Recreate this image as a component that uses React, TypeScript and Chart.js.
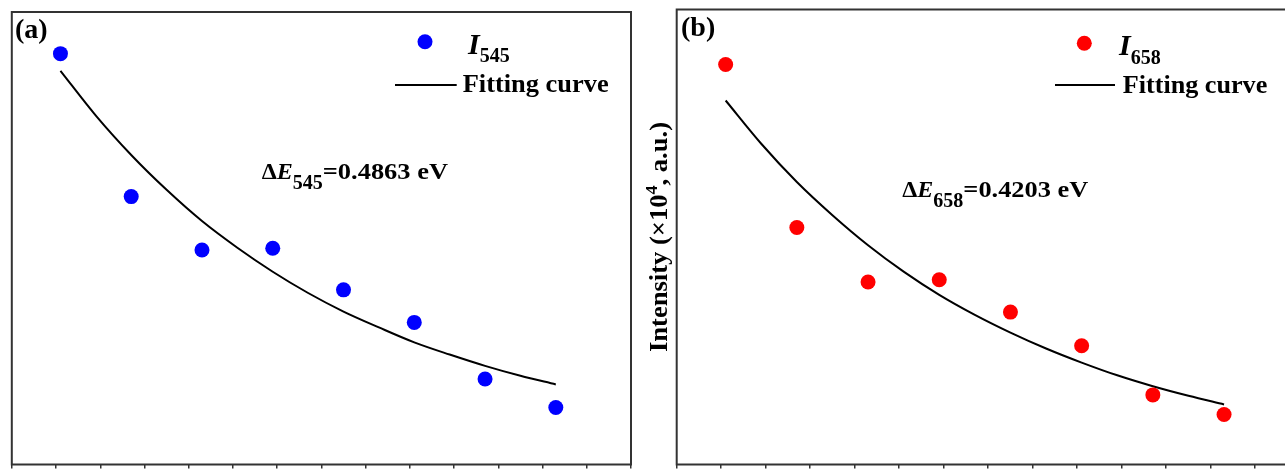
import React, { useEffect, useRef } from 'react';
import { Chart, registerables } from 'chart.js';

Chart.register(...registerables);

// ---------- data ----------
const xTicks = [0, 1, 2, 3, 4, 5, 6, 7, 8, 9, 10, 11, 12, 13, 14];
const xPoints = [1.1, 2.7, 4.3, 5.9, 7.5, 9.1, 10.7, 12.3];
const xFit = [1.1, 1.9, 2.7, 3.5, 4.3, 5.1, 5.9, 6.7, 7.5, 8.3, 9.1, 9.9, 10.7, 11.5, 12.3];

const i545 = [9.08, 5.92, 4.74, 4.78, 3.86, 3.14, 1.89, 1.26];
const fit545 = [8.70, 7.71, 6.84, 6.07, 5.38, 4.79, 4.26, 3.79, 3.38, 3.03, 2.70, 2.43, 2.18, 1.96, 1.77];

const i658 = [8.79, 5.21, 4.01, 4.06, 3.35, 2.61, 1.53, 1.10];
const fit658 = [8.00, 7.05, 6.21, 5.48, 4.82, 4.24, 3.73, 3.29, 2.90, 2.55, 2.24, 1.96, 1.72, 1.51, 1.32];

const labelA = '(a)';
const labelB = '(b)';
const seriesA = '545';
const seriesB = '658';
const energyA = '=0.4863 eV';
const energyB = '=0.4203 eV';
const fitLabel = 'Fitting curve';
const yTitleMain = 'Intensity (\u00d710';
const yTitleSup = '4';
const yTitleEnd = ', a.u.)';

// ---------- helpers ----------
type Seg = { t: string; size: number; italic?: boolean; dy?: number; sx?: number };

const FONT = '"Liberation Serif", "Times New Roman", serif';

function segFont(s: Seg) {
  return `${s.italic ? 'italic ' : ''}bold ${s.size}px ${FONT}`;
}

function richWidth(ctx: CanvasRenderingContext2D, segs: Seg[]) {
  let w = 0;
  for (const s of segs) {
    ctx.font = segFont(s);
    w += ctx.measureText(s.t).width * (s.sx ?? 1);
  }
  return w;
}

function drawRich(ctx: CanvasRenderingContext2D, x: number, y: number, segs: Seg[]) {
  let cx = x;
  for (const s of segs) {
    ctx.save();
    ctx.font = segFont(s);
    const sx = s.sx ?? 1;
    ctx.translate(cx, y + (s.dy ?? 0));
    ctx.scale(sx, 1);
    ctx.fillStyle = '#000';
    ctx.textBaseline = 'alphabetic';
    ctx.textAlign = 'left';
    ctx.fillText(s.t, 0, 0);
    cx += ctx.measureText(s.t).width * sx;
    ctx.restore();
  }
  return cx;
}

type PanelCfg = {
  canvasLeft: number;
  canvasWidth: number;
  padding: { left: number; top: number; right: number; bottom: number };
  values: number[];
  fit: number[];
  color: string;
  label: string;
  labelPos: [number, number];
  series: string;
  dot: [number, number];
  iPos: [number, number];
  subDy: number;
  line: [number, number, number];
  fitPos: [number, number];
  fitWidth: number;
  energy: string;
  ePos: [number, number];
  eEnd: number;
  eSubDy: number;
  yTitle?: [number, number, number];
};

const H = 472;

const panelA: PanelCfg = {
  canvasLeft: 0,
  canvasWidth: 645,
  padding: { left: 11.8, top: 12, right: 645 - 631, bottom: H - 470 },
  values: i545,
  fit: fit545,
  color: '#0000ff',
  label: labelA,
  labelPos: [15, 37.5],
  series: seriesA,
  dot: [425, 41.7],
  iPos: [468, 54],
  subDy: 8,
  line: [395, 456.7, 85],
  fitPos: [462.7, 92],
  fitWidth: 146,
  energy: energyA,
  ePos: [261.7, 179.3],
  eEnd: 448,
  eSubDy: 10,
};

const panelB: PanelCfg = {
  canvasLeft: 636,
  canvasWidth: 680,
  padding: { left: 676.7 - 636, top: 9.5, right: 1316 - (676.7 + 14 * 44.5), bottom: H - 469.5 },
  values: i658,
  fit: fit658,
  color: '#ff0000',
  label: labelB,
  labelPos: [681, 35.5],
  series: seriesB,
  dot: [1084.3, 43.3],
  iPos: [1119, 55],
  subDy: 8.5,
  line: [1055, 1115, 85],
  fitPos: [1122.7, 92.5],
  fitWidth: 144.6,
  energy: energyB,
  ePos: [902.3, 196.7],
  eEnd: 1088.3,
  eSubDy: 10,
  yTitle: [658, 237, 230],
};

function Panel({ cfg }: { cfg: PanelCfg }) {
  const ref = useRef<HTMLCanvasElement | null>(null);

  useEffect(() => {
    const canvas = ref.current;
    if (!canvas) return;
    const off = cfg.canvasLeft;

    const deco = {
      id: 'deco',
      afterDraw(chart: any) {
        const ctx: CanvasRenderingContext2D = chart.ctx;
        const a = chart.chartArea;
        // frame
        ctx.save();
        ctx.strokeStyle = '#333333';
        ctx.lineWidth = 2;
        ctx.strokeRect(a.left, a.top, a.right - a.left, a.bottom - a.top);
        ctx.restore();

        // panel label
        drawRich(ctx, cfg.labelPos[0] - off, cfg.labelPos[1], [{ t: cfg.label, size: 28 }]);

        // legend
        ctx.save();
        ctx.fillStyle = cfg.color;
        ctx.beginPath();
        ctx.arc(cfg.dot[0] - off, cfg.dot[1], 7.5, 0, Math.PI * 2);
        ctx.fill();
        ctx.restore();
        drawRich(ctx, cfg.iPos[0] - off, cfg.iPos[1], [
          { t: 'I', size: 30, italic: true },
          { t: cfg.series, size: 20, dy: cfg.subDy },
        ]);
        ctx.save();
        ctx.strokeStyle = '#000';
        ctx.lineWidth = 2;
        ctx.beginPath();
        ctx.moveTo(cfg.line[0] - off, cfg.line[2]);
        ctx.lineTo(cfg.line[1] - off, cfg.line[2]);
        ctx.stroke();
        ctx.restore();
        const fw = richWidth(ctx, [{ t: fitLabel, size: 26 }]);
        drawRich(ctx, cfg.fitPos[0] - off, cfg.fitPos[1], [
          { t: fitLabel, size: 26, sx: cfg.fitWidth / fw },
        ]);

        // activation energy annotation
        const head: Seg[] = [
          { t: '\u0394', size: 24 },
          { t: 'E', size: 24, italic: true },
          { t: cfg.series, size: 20, dy: cfg.eSubDy },
        ];
        const hw = richWidth(ctx, head);
        const tailW = richWidth(ctx, [{ t: cfg.energy, size: 24 }]);
        const sx = (cfg.eEnd - cfg.ePos[0] - hw) / tailW;
        drawRich(ctx, cfg.ePos[0] - off, cfg.ePos[1], [
          ...head,
          { t: cfg.energy, size: 24, sx },
        ]);

        // y title
        if (cfg.yTitle) {
          const [cx, cy, len] = cfg.yTitle;
          const segs: Seg[] = [
            { t: yTitleMain, size: 25 },
            { t: yTitleSup, size: 17, dy: -10 },
            { t: yTitleEnd, size: 25 },
          ];
          const w = richWidth(ctx, segs);
          const s = len / w;
          const segs2 = segs.map((g) => ({ ...g, sx: s }));
          ctx.save();
          ctx.translate(cx - off, cy);
          ctx.rotate(-Math.PI / 2);
          drawRich(ctx, -len / 2, 8.5, segs2);
          ctx.restore();
        }
      },
    };

    const chart = new Chart(canvas, {
      type: 'scatter',
      data: {
        datasets: [
          {
            label: 'fit',
            data: xFit.map((x, i) => ({ x, y: cfg.fit[i] })),
            showLine: true,
            borderColor: '#000',
            borderWidth: 2,
            pointRadius: 0,
            cubicInterpolationMode: 'monotone',
            order: 2,
          },
          {
            label: 'I',
            data: xPoints.map((x, i) => ({ x, y: cfg.values[i] })),
            showLine: false,
            backgroundColor: cfg.color,
            borderColor: cfg.color,
            borderWidth: 0,
            pointRadius: 7.5,
            order: 1,
          },
        ],
      },
      options: {
        responsive: false,
        animation: false,
        devicePixelRatio: 1,
        layout: { padding: cfg.padding },
        plugins: { legend: { display: false }, tooltip: { enabled: false } },
        scales: {
          x: {
            type: 'linear',
            min: xTicks[0],
            max: xTicks[xTicks.length - 1],
            afterFit: (s: any) => {
              s.height = 0;
            },
            afterBuildTicks: (s: any) => {
              s.ticks = xTicks.map((v) => ({ value: v }));
            },
            ticks: { display: false },
            border: { display: false },
            grid: {
              drawOnChartArea: false,
              drawTicks: true,
              tickLength: 4,
              color: '#333333',
              lineWidth: 1.5,
            },
          },
          y: {
            type: 'linear',
            min: 0,
            max: 10,
            display: false,
          },
        },
      },
      plugins: [deco],
    } as any);

    return () => chart.destroy();
  }, [cfg]);

  return (
    <canvas
      ref={ref}
      width={cfg.canvasWidth}
      height={H}
      style={{ position: 'absolute', left: cfg.canvasLeft, top: 0, width: cfg.canvasWidth, height: H }}
    />
  );
}

export default function App() {
  return (
    <div
      style={{
        position: 'fixed',
        left: 0,
        top: 0,
        width: 1285,
        height: H,
        overflow: 'hidden',
        background: '#fff',
      }}
    >
      <Panel cfg={panelA} />
      <Panel cfg={panelB} />
    </div>
  );
}
